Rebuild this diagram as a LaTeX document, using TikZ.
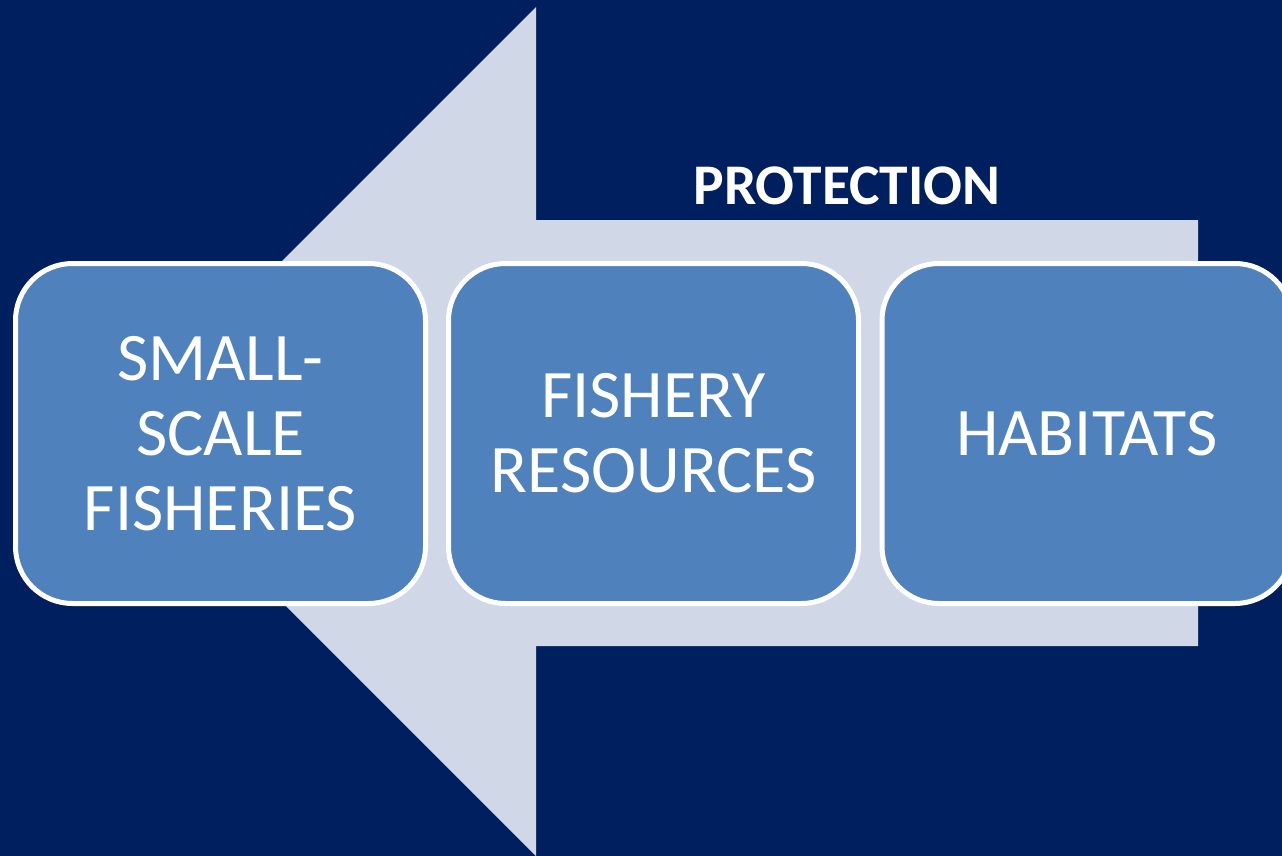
\documentclass[tikz,border=0pt]{standalone}
\usepackage{fontspec}
\setmainfont{Carlito}
\definecolor{bgnavy}{RGB}{0,31,95}
\definecolor{arrowgray}{RGB}{208,216,232}
\definecolor{boxblue}{RGB}{79,129,189}
\tikzset{
  stagebox/.style={draw=white, line width=5pt, fill=boxblue, rounded corners=57pt,
    minimum width=410pt, minimum height=340pt, inner sep=0pt, align=center,
    text=white, font=\fontsize{68}{75}\selectfont},
  titlelabel/.style={text=white, font=\bfseries\fontsize{57.5}{60}\selectfont, inner sep=0pt, anchor=base}
}
\begin{document}
\begin{tikzpicture}[x=1pt,y=-1pt]
\useasboundingbox (0,0) rectangle (1282,856);
\fill[bgnavy] (0,0) rectangle (1282,856);
% big arrow
\fill[arrowgray] (111.5,431.5) -- (536,7) -- (536,220) -- (1198,220) -- (1198,646) -- (536,646) -- (536,856) -- cycle;
\node[titlelabel] (title) at (847,204) {PROTECTION};
\node[stagebox] (ssf) at (220.5,433.5) {SMALL-\\SCALE\\FISHERIES};
\node[stagebox] (res) at (653.5,433.5) {FISHERY\\RESOURCES};
\node[stagebox] (hab) at (1087,433.5) {HABITATS};
\end{tikzpicture}
\end{document}
